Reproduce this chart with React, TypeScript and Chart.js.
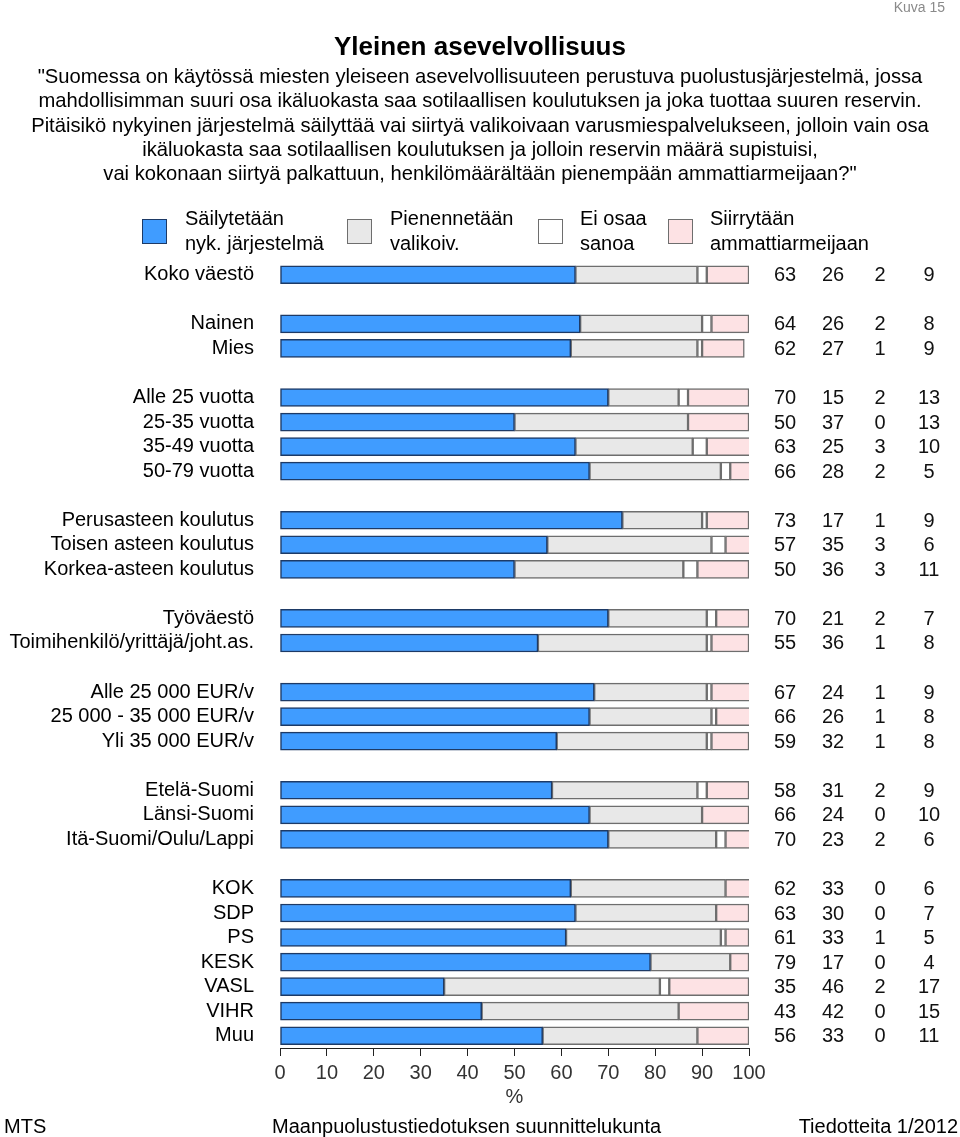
import React, { useEffect, useRef } from "react";
import { Chart, registerables } from "chart.js";

Chart.register(...registerables);

const categories: string[] = [
  "Koko väestö", "",
  "Nainen", "Mies", "",
  "Alle 25 vuotta", "25-35 vuotta", "35-49 vuotta", "50-79 vuotta", "",
  "Perusasteen koulutus", "Toisen asteen koulutus", "Korkea-asteen koulutus", "",
  "Työväestö", "Toimihenkilö/yrittäjä/joht.as.", "",
  "Alle 25 000 EUR/v", "25 000 - 35 000 EUR/v", "Yli 35 000 EUR/v", "",
  "Etelä-Suomi", "Länsi-Suomi", "Itä-Suomi/Oulu/Lappi", "",
  "KOK", "SDP", "PS", "KESK", "VASL", "VIHR", "Muu",
];

const sailytetaan: (number | null)[] = [63, null, 64, 62, null, 70, 50, 63, 66, null, 73, 57, 50, null, 70, 55, null, 67, 66, 59, null, 58, 66, 70, null, 62, 63, 61, 79, 35, 43, 56];
const pienennetaan: (number | null)[] = [26, null, 26, 27, null, 15, 37, 25, 28, null, 17, 35, 36, null, 21, 36, null, 24, 26, 32, null, 31, 24, 23, null, 33, 30, 33, 17, 46, 42, 33];
const eiOsaa: (number | null)[] = [2, null, 2, 1, null, 2, 0, 3, 2, null, 1, 3, 3, null, 2, 1, null, 1, 1, 1, null, 2, 0, 2, null, 0, 0, 1, 0, 2, 0, 0];
const siirrytaan: (number | null)[] = [9, null, 8, 9, null, 13, 13, 10, 5, null, 9, 6, 11, null, 7, 8, null, 9, 8, 8, null, 9, 10, 6, null, 6, 7, 5, 4, 17, 15, 11];

const seriesNames = ["Säilytetään\nnyk. järjestelmä", "Pienennetään\nvalikoiv.", "Ei osaa\nsanoa", "Siirrytään\nammattiarmeijaan"];
const xTicks = [0, 10, 20, 30, 40, 50, 60, 70, 80, 90, 100];

const FONT = "'Liberation Sans', Arial, Helvetica, sans-serif";
const fills = ["#409cff", "#e8e8e8", "#ffffff", "#fde2e4"];
const borders = ["#1d3a66", "#6e6e6e", "#6e6e6e", "#6e6e6e"];

const valuePlugin = {
  id: "valueColumns",
  afterDatasetsDraw(chart: any) {
    const ctx = chart.ctx;
    const yScale = chart.scales.y;
    const right = chart.chartArea.right;
    const offsets = [36, 84, 131, 180];
    const all = [sailytetaan, pienennetaan, eiOsaa, siirrytaan];
    ctx.save();
    ctx.font = `20px ${FONT}`;
    ctx.fillStyle = "#111";
    ctx.textAlign = "center";
    ctx.textBaseline = "middle";
    for (let i = 0; i < categories.length; i++) {
      if (sailytetaan[i] == null) continue;
      const y = yScale.getPixelForValue(i);
      all.forEach((arr, k) => {
        ctx.fillText(String(arr[i]), right + offsets[k], y + 1);
      });
    }
    ctx.restore();
  },
};

export default function App() {
  const ref = useRef<HTMLCanvasElement>(null);

  useEffect(() => {
    const canvas = ref.current!;
    const datasets = [sailytetaan, pienennetaan, eiOsaa, siirrytaan].map((d, k) => ({
      label: seriesNames[k],
      data: d,
      backgroundColor: fills[k],
      borderColor: borders[k],
      borderWidth: 1.5,
      borderSkipped: false as const,
      barThickness: 18,
    }));
    const chart = new Chart(canvas, {
      type: "bar",
      data: { labels: categories, datasets },
      plugins: [valuePlugin],
      options: {
        animation: false,
        responsive: false,
        indexAxis: "y",
        layout: { padding: { left: 0, right: 211, top: 262.5, bottom: 28 } },
        plugins: { legend: { display: false }, tooltip: { enabled: false }, title: { display: false } },
        scales: {
          x: {
            stacked: true,
            min: 0,
            max: 100,
            afterBuildTicks: (scale: any) => {
              scale.ticks = xTicks.map((v) => ({ value: v }));
            },
            ticks: { font: { family: FONT, size: 20 }, color: "#333", padding: 5, maxRotation: 0 },
            grid: { display: true, drawOnChartArea: false, drawTicks: true, tickLength: 8, color: "#222", lineWidth: 1 },
            border: { display: true, color: "#222", width: 1 },
            title: { display: true, text: "%", font: { family: FONT, size: 20 }, color: "#333", padding: 0 },
            afterFit: (scale: any) => {
              scale.height = 61;
            },
          },
          y: {
            stacked: true,
            grid: { display: false },
            border: { display: false },
            ticks: { font: { family: FONT, size: 20 }, color: "#000", padding: 18, autoSkip: false },
            afterFit: (scale: any) => {
              scale.width = 280;
            },
          },
        },
      },
    } as any);
    return () => chart.destroy();
  }, []);

  const text: React.CSSProperties = { position: "absolute", fontFamily: FONT, fontSize: 20, color: "#000", whiteSpace: "nowrap" };
  const legendItems = [
    { x: 142, tx: 185, k: 0 },
    { x: 347, tx: 390, k: 1 },
    { x: 538, tx: 580, k: 2 },
    { x: 668, tx: 710, k: 3 },
  ];

  return (
    <div style={{ position: "absolute", left: 0, top: 0, width: 960, height: 1137, background: "#fff", overflow: "hidden" }}>
      <canvas ref={ref} width={960} height={1137} style={{ position: "absolute", left: 0, top: 0 }} />
      <div style={{ ...text, right: 15, top: -3, fontSize: 14, color: "#8a8a8a", lineHeight: "20px" }}>Kuva 15</div>
      <div style={{ ...text, left: 0, width: 960, textAlign: "center", top: 31, fontSize: 26, fontWeight: "bold", lineHeight: "30px" }}>
        Yleinen asevelvollisuus
      </div>
      <div style={{ ...text, left: 0, width: 960, textAlign: "center", top: 64, lineHeight: "24.3px", fontSize: 20.2 }}>
        "Suomessa on käytössä miesten yleiseen asevelvollisuuteen perustuva puolustusjärjestelmä, jossa
        <br />
        mahdollisimman suuri osa ikäluokasta saa sotilaallisen koulutuksen ja joka tuottaa suuren reservin.
        <br />
        Pitäisikö nykyinen järjestelmä säilyttää vai siirtyä valikoivaan varusmiespalvelukseen, jolloin vain osa
        <br />
        ikäluokasta saa sotilaallisen koulutuksen ja jolloin reservin määrä supistuisi,
        <br />
        vai kokonaan siirtyä palkattuun, henkilömäärältään pienempään ammattiarmeijaan?"
      </div>
      {legendItems.map((it) => (
        <React.Fragment key={it.k}>
          <div
            style={{
              position: "absolute",
              left: it.x,
              top: 219,
              width: 23,
              height: 23,
              background: fills[it.k],
              border: `1.5px solid ${borders[it.k]}`,
            }}
          />
          <div style={{ ...text, left: it.tx, top: 205.5, lineHeight: "25px" }}>
            {seriesNames[it.k].split("\n").map((s, i) => (
              <div key={i}>{s}</div>
            ))}
          </div>
        </React.Fragment>
      ))}
      <div style={{ ...text, left: 4, top: 1114, lineHeight: "24px" }}>MTS</div>
      <div style={{ ...text, left: 272, top: 1114, lineHeight: "24px" }}>Maanpuolustustiedotuksen suunnittelukunta</div>
      <div style={{ ...text, right: 2, top: 1114, lineHeight: "24px" }}>Tiedotteita 1/2012</div>
    </div>
  );
}
